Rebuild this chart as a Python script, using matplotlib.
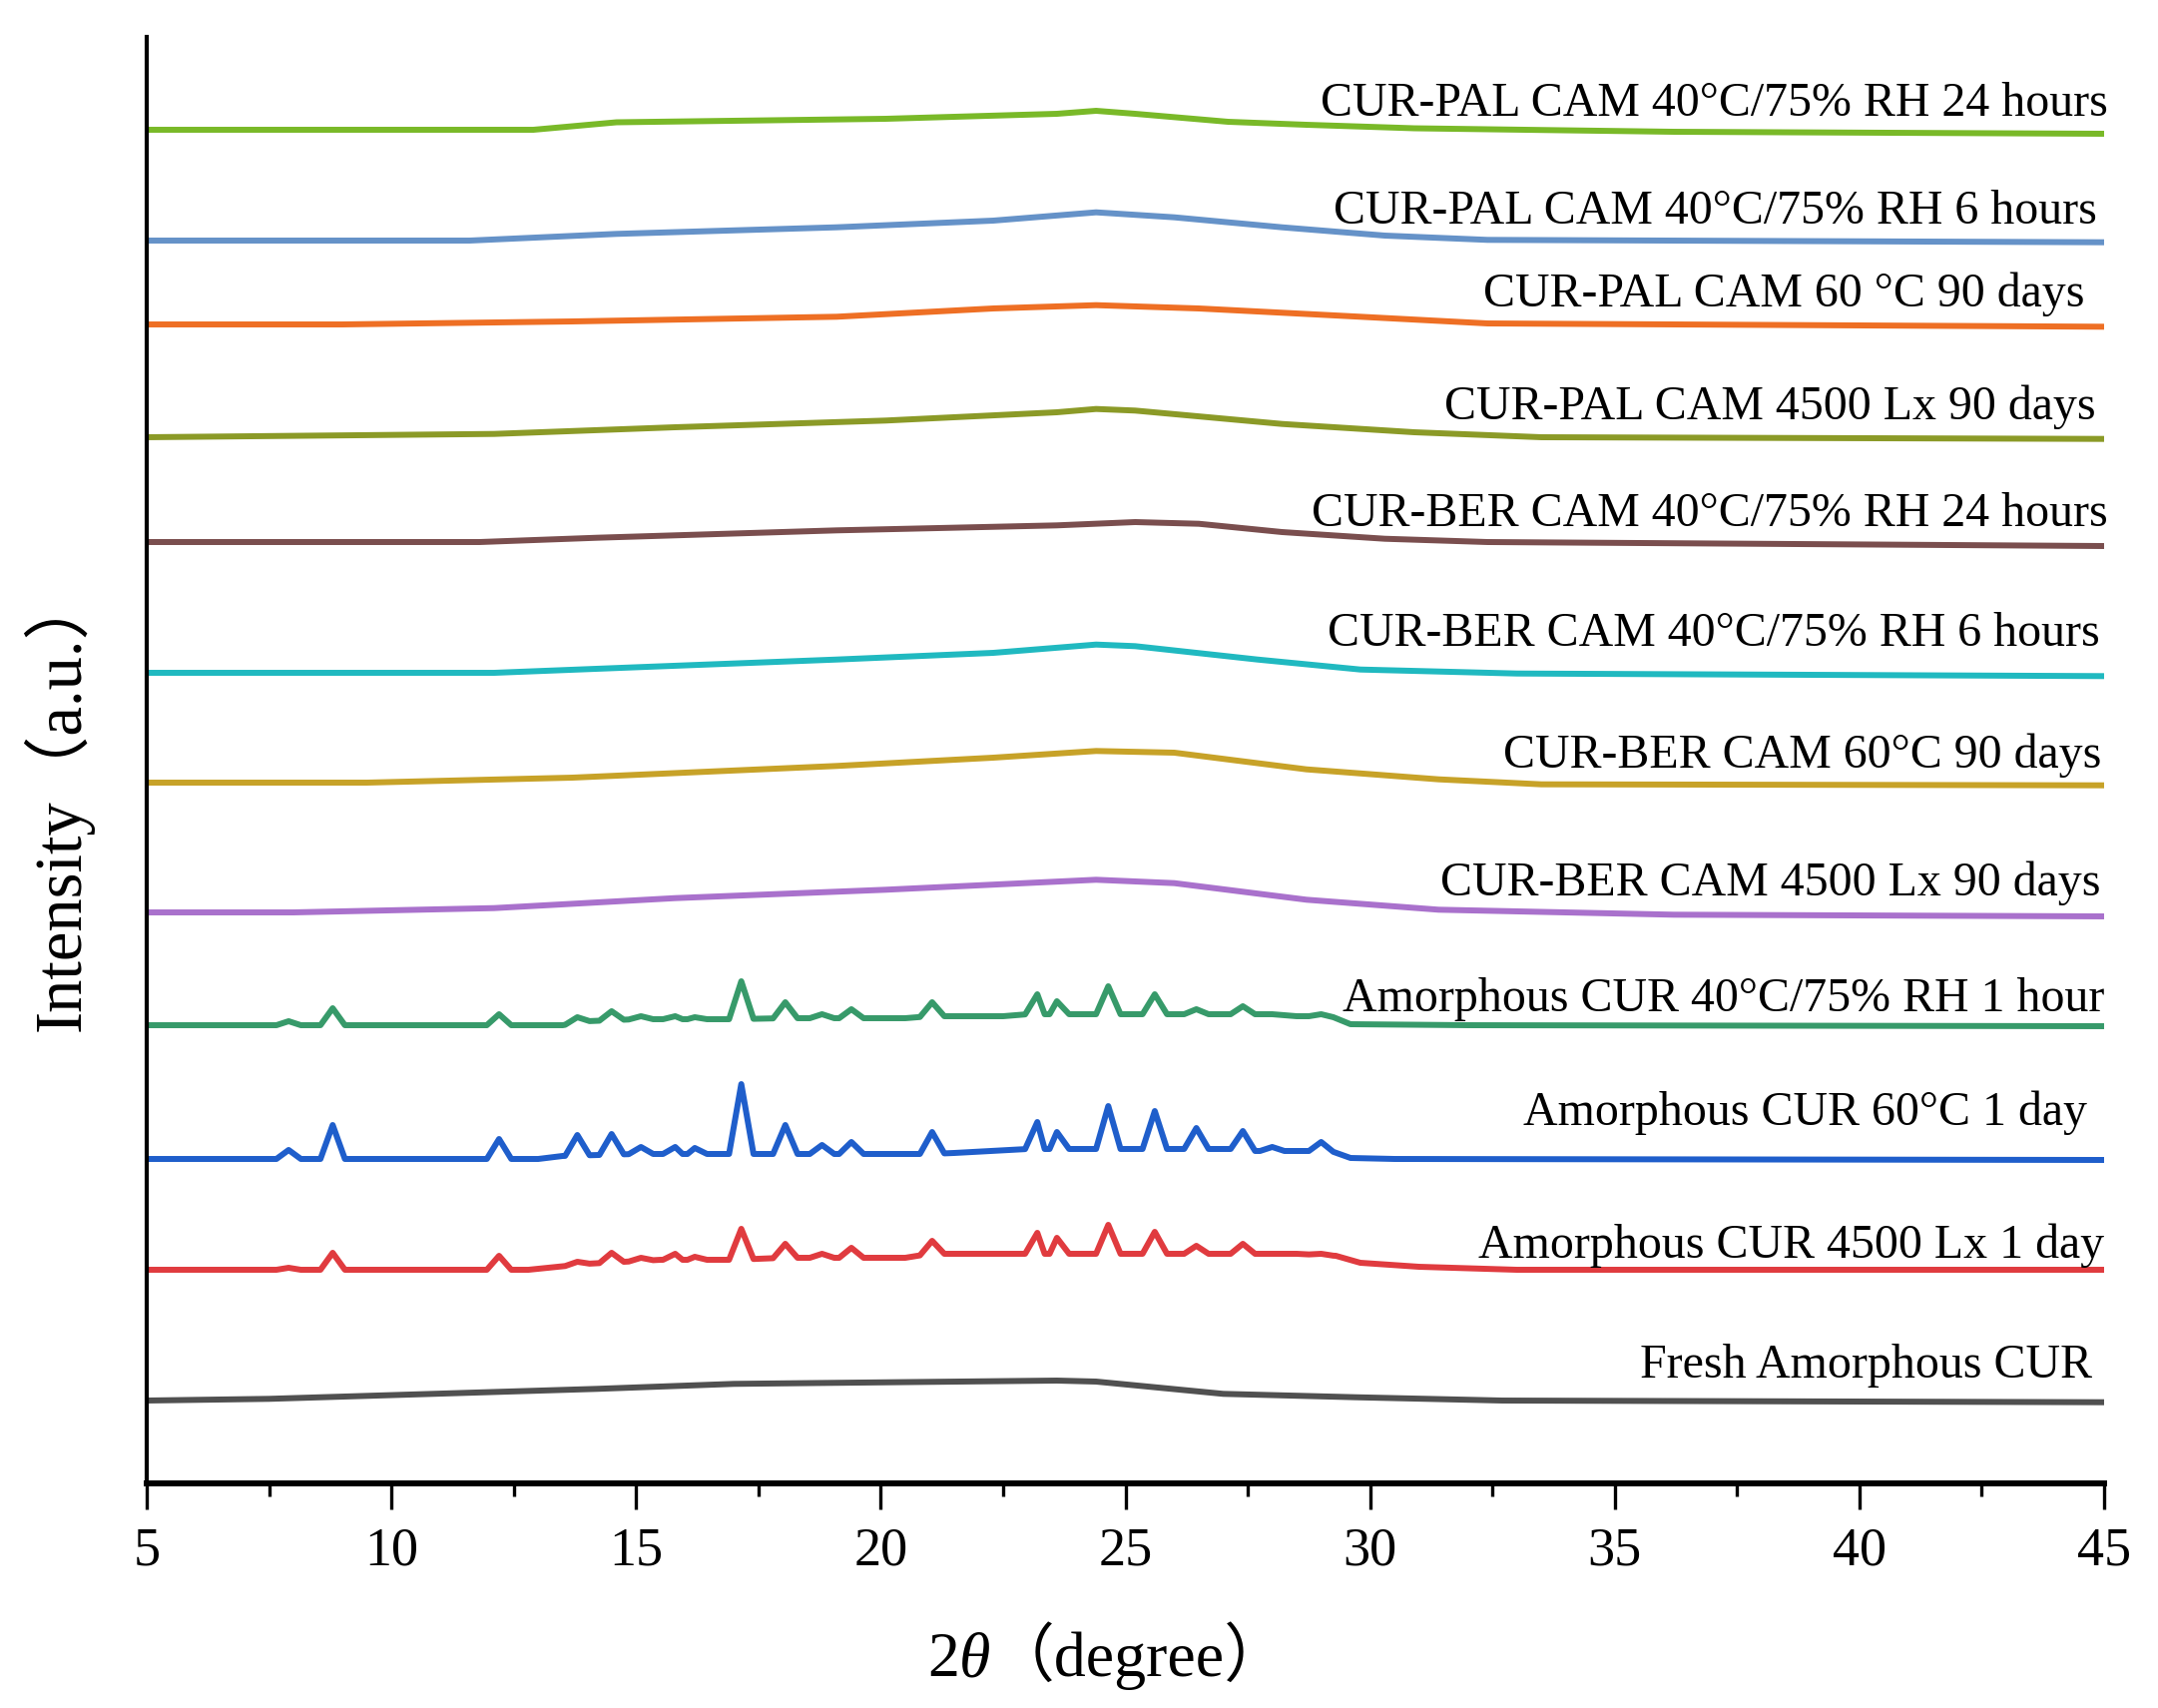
import matplotlib
matplotlib.use("Agg")
import matplotlib.pyplot as plt
import numpy as np
from matplotlib.ticker import MultipleLocator

SERIF = "Liberation Serif"
LABEL_FAMILY = ["Liberation Serif", "Noto Sans CJK SC"]

# curves from bottom to top
NAMES = [
    "Fresh Amorphous CUR",
    "Amorphous CUR 4500 Lx 1 day",
    "Amorphous CUR 60°C 1 day",
    "Amorphous CUR 40°C/75% RH 1 hour",
    "CUR-BER CAM 4500 Lx 90 days",
    "CUR-BER CAM 60°C 90 days",
    "CUR-BER CAM 40°C/75% RH 6 hours",
    "CUR-BER CAM 40°C/75% RH 24 hours",
    "CUR-PAL CAM 4500 Lx 90 days",
    "CUR-PAL CAM 60 °C 90 days",
    "CUR-PAL CAM 40°C/75% RH 6 hours",
    "CUR-PAL CAM 40°C/75% RH 24 hours",
]
COLORS = ["#505050", "#e03b3f", "#1f5ecb", "#379a6a", "#a971cc", "#c7a228",
          "#20b9c0", "#7a4e4e", "#8b9a27", "#ee6f24", "#6592c8", "#79b928"]
OFFSETS = [83, 214, 325, 459, 572, 702, 812, 943, 1048, 1161, 1245, 1356]

# label anchor: right edge (2theta) and baseline height
LABEL_X = [44.76, 45.0, 44.65, 45.0, 44.92, 44.94, 44.92, 45.08, 44.82, 44.61, 44.86, 45.08]
LABEL_Y = [106, 226, 359, 473, 589, 717, 839, 959, 1066, 1179, 1262, 1370]

# amorphous halos (2theta, intensity above offset)
FRESH_X = [5, 7.5, 14.2, 17.0, 23.6, 24.4, 27.0, 29.7, 32.7, 45]
FRESH_Y = [0, 1.7, 11.7, 16.7, 20, 19, 6.7, 3.3, 0, -1.7]
BER_LX_X = [5, 8, 12.1, 15.8, 20.1, 24.4, 26.0, 28.7, 31.4, 36.2, 45]
BER_LX_Y = [0, 0, 4.3, 14.3, 22.7, 32.7, 29.3, 12.7, 2.7, -2.3, -4]
BER_60_X = [5, 9.5, 13.7, 19.1, 22.3, 24.4, 26.0, 28.7, 31.4, 33.5, 45]
BER_60_Y = [0, 0, 5, 16.7, 25, 31.7, 30, 13.3, 3.3, -1.7, -2.7]
BER_6H_X = [5, 12.1, 14.7, 19.1, 22.3, 24.4, 25.2, 27.7, 29.8, 33.0, 45]
BER_6H_Y = [0, 0, 5, 13.3, 20, 28.3, 26.7, 13.3, 3.3, -0.7, -3.3]
BER_24H_X = [5, 11.8, 14.2, 19.1, 23.6, 25.2, 26.5, 28.2, 30.3, 32.4, 45]
BER_24H_Y = [0, 0, 4.3, 11.7, 16.7, 20, 18.3, 10, 3.3, 0, -4]
PAL_LX_X = [5, 12.1, 15.8, 20.1, 23.6, 24.4, 25.2, 28.2, 30.9, 33.5, 45]
PAL_LX_Y = [0, 3.3, 10, 16.7, 25, 28.3, 26.7, 13.3, 5, 0, -1.7]
PAL_60_X = [5, 9, 13.7, 19.1, 22.3, 24.4, 26.5, 29.8, 32.4, 45]
PAL_60_Y = [0, 0, 3, 7.7, 16, 19.3, 16, 7.7, 1, -2.3]
PAL_6H_X = [5, 11.6, 14.6, 19.1, 22.3, 24.4, 26.0, 28.2, 30.3, 32.4, 45]
PAL_6H_Y = [0, 0, 6.7, 13.3, 20, 28.3, 23.3, 13.3, 5, 0.7, -1.7]
PAL_24H_X = [5, 12.9, 14.6, 20.1, 23.6, 24.4, 25.2, 27.1, 28.7, 30.9, 36.2, 45]
PAL_24H_Y = [0, 0, 7.5, 11, 16, 19, 16, 8, 5, 1.5, -2, -4]

# crystalline curcumin reflections
PEAK_POS = [7.9, 8.8, 12.2, 13.8, 14.5, 15.1, 15.8, 16.2, 17.15, 18.05, 18.8,
            19.4, 21.05, 23.2, 23.6, 24.65, 25.6, 26.45, 27.4, 28.0, 29.0]
RED_TOP = [2, 17, 14, 8, 17, 12, 16, 13, 41, 26, 16, 22, 29, 37, 32, 45, 38, 24, 26, 16, 16]
BLUE_TOP = [9, 34, 20, 24, 25, 12, 12, 11, 75, 34, 14, 17, 27, 37, 27, 53, 48, 31, 28, 12, 17]
GREEN_TOP = [4, 17, 11, 8, 14, 9, 9, 8, 44, 23, 11, 16, 23, 31, 24, 39, 31, 16, 19, 9, 11]

RED_BG_X = [5, 12.8, 14.0, 15.5, 17.0, 18.0, 20.5, 21.0, 28.5, 29.3, 29.8, 31.0, 33.0, 45]
RED_BG_Y = [0, 0, 6, 10, 10, 12, 12, 16, 16, 14, 7, 3, 0, 0]
BLUE_BG_X = [5, 13.0, 13.5, 15.0, 17.0, 18.0, 21.0, 21.5, 23.0, 27.5, 27.6, 29.2, 29.6, 30.5, 45]
BLUE_BG_Y = [0, 0, 3, 5, 5, 5, 5, 6, 10, 10, 8, 8, 1, 0, -1]
GREEN_BG_X = [5, 13.5, 14.0, 15.0, 17.0, 18.0, 20.5, 21.0, 22.5, 23.0, 28.0, 28.5, 29.2, 29.6, 32.0, 45]
GREEN_BG_Y = [0, 0, 4, 6, 6, 7, 7, 9, 9, 11, 11, 9, 9, 1, 0, -1]

PEAK_HALF_WIDTH = 0.25


def with_peaks(bg_x, bg_y, pos, top, hw=PEAK_HALF_WIDTH):
    # background points outside the peak windows, plus a triangle per peak
    pts = [(x, y) for x, y in zip(bg_x, bg_y)
           if all(abs(x - p) > hw for p in pos)]
    for p, t in zip(pos, top):
        for x in (p - hw, p + hw):
            pts.append((x, float(np.interp(x, bg_x, bg_y))))
        pts.append((p, max(t, float(np.interp(p, bg_x, bg_y)))))
    pts.sort()
    return [x for x, _ in pts], [y for _, y in pts]


patterns = [
    (FRESH_X, FRESH_Y),
    with_peaks(RED_BG_X, RED_BG_Y, PEAK_POS, RED_TOP),
    with_peaks(BLUE_BG_X, BLUE_BG_Y, PEAK_POS, BLUE_TOP),
    with_peaks(GREEN_BG_X, GREEN_BG_Y, PEAK_POS, GREEN_TOP),
    (BER_LX_X, BER_LX_Y),
    (BER_60_X, BER_60_Y),
    (BER_6H_X, BER_6H_Y),
    (BER_24H_X, BER_24H_Y),
    (PAL_LX_X, PAL_LX_Y),
    (PAL_60_X, PAL_60_Y),
    (PAL_6H_X, PAL_6H_Y),
    (PAL_24H_X, PAL_24H_Y),
]

W, H, DPI = 2162, 1711, 100
fig = plt.figure(figsize=(W / DPI, H / DPI), dpi=DPI)
ax = fig.add_axes([147 / W, (H - 1486) / H, (2108 - 147) / W, (1486 - 37) / H])

for (xs, ys), off, color in zip(patterns, OFFSETS, COLORS):
    ax.plot(xs, np.asarray(ys) + off, color=color, lw=4.3, solid_joinstyle="round")

for name, lx, ly in zip(NAMES, LABEL_X, LABEL_Y):
    ax.text(lx, ly, name, ha="right", va="baseline", fontsize=34.5, family=SERIF)

ax.set_xlim(5, 45)
ax.set_ylim(0, 1449)
ax.xaxis.set_major_locator(MultipleLocator(5))
ax.xaxis.set_minor_locator(MultipleLocator(2.5))
ax.set_yticks([])
for side in ("top", "right"):
    ax.spines[side].set_visible(False)
ax.spines["left"].set_linewidth(3.0)
ax.spines["bottom"].set_linewidth(4.3)
ax.tick_params(axis="x", which="major", length=19, width=2.4, direction="out",
               labelsize=39, pad=12)
ax.tick_params(axis="x", which="minor", length=9, width=2.4, direction="out")
for lab in ax.get_xticklabels():
    lab.set_family(SERIF)

# y label
fig.text(58 / W, 1 - 802 / H, "Intensity（a.u.）", rotation=90, ha="center", va="center",
         fontsize=48, family=LABEL_FAMILY)

# x label: 2 + italic theta + (degree)
fig.canvas.draw()
renderer = fig.canvas.get_renderer()
parts = [("2", "normal"), ("θ", "italic"), ("（degree）", "normal")]
texts = [fig.text(0, 1 - 1679 / H, s, style=st, fontsize=46, family=LABEL_FAMILY,
                  ha="left", va="baseline") for s, st in parts]
widths = [t.get_window_extent(renderer).width for t in texts]
x = 1110 - sum(widths) / 2
for t, w in zip(texts, widths):
    t.set_x(x / W)
    x += w

fig.savefig("out.png", dpi=DPI)
